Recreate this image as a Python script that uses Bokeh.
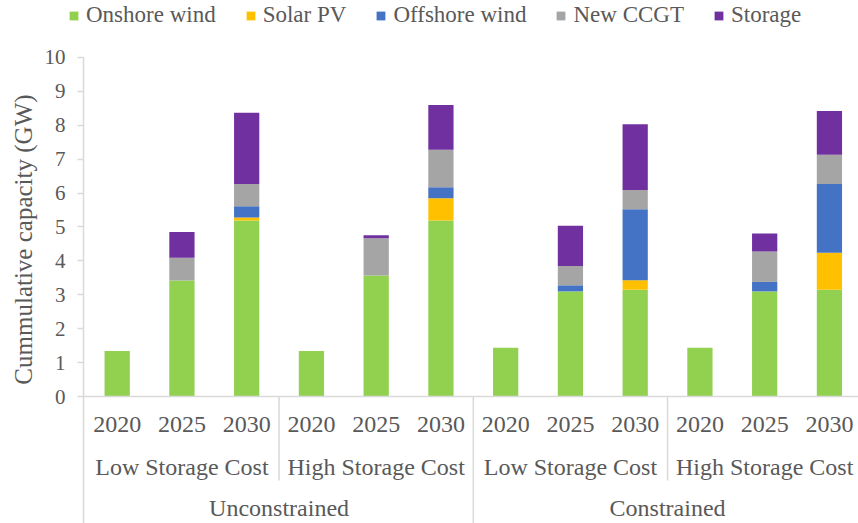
from bokeh.plotting import figure
from bokeh.models import ColumnDataSource, Range1d, FixedTicker, Legend, LegendItem, Label
from bokeh.core.properties import value
from bokeh.embed import file_html
from bokeh.resources import INLINE

# ---- data ----
constraint_groups = ["Unconstrained", "Constrained"]
cost_groups = ["Low Storage Cost", "High Storage Cost"]
years = ["2020", "2025", "2030"]
series_names = ["Onshore wind", "Solar PV", "Offshore wind", "New CCGT", "Storage"]
series_keys = ["onshore", "solar", "offshore", "ccgt", "storage"]
colors = ["#92d050", "#ffc000", "#4472c4", "#a5a5a5", "#7030a0"]

onshore = [1.34, 3.42, 5.19, 1.34, 3.57, 5.19, 1.44, 3.10, 3.15, 1.44, 3.10, 3.15]
solar = [0, 0, 0.09, 0, 0, 0.66, 0, 0, 0.28, 0, 0, 1.09]
offshore = [0, 0, 0.33, 0, 0, 0.32, 0, 0.18, 2.09, 0, 0.28, 2.03]
ccgt = [0, 0.67, 0.66, 0, 1.10, 1.11, 0, 0.57, 0.57, 0, 0.90, 0.86]
storage = [0, 0.76, 2.10, 0, 0.09, 1.32, 0, 1.19, 1.94, 0, 0.53, 1.29]
y_ticks = [0, 1, 2, 3, 4, 5, 6, 7, 8, 9, 10]

# ---- styling ----
FONT = "Liberation Serif"
TEXT = "#595959"
AXIS = "#d9d9d9"

n_years = len(years)
n_cost = len(cost_groups)
n = len(constraint_groups) * n_cost * n_years
xpos = list(range(n))
year_labels = years * (n // n_years)
cost_labels = cost_groups * len(constraint_groups)
cost_x = [i * n_years + (n_years - 1) / 2 for i in range(len(cost_labels))]
con_x = [i * n_years * n_cost + (n_years * n_cost - 1) / 2 for i in range(len(constraint_groups))]

X0, X1 = -1.802, 11.449
Y0, Y1 = -3.746, 11.681
AXIS_X = -0.52

source = ColumnDataSource(dict(x=xpos, onshore=onshore, solar=solar, offshore=offshore,
                               ccgt=ccgt, storage=storage))

p = figure(width=858, height=523, output_backend="svg", toolbar_location=None,
           x_range=Range1d(X0, X1), y_range=Range1d(Y0, Y1),
           x_axis_location=None,
           min_border_left=0, min_border_right=0, min_border_top=0, min_border_bottom=0)
p.grid.visible = False
p.outline_line_color = None
p.background_fill_color = "white"

renderers = p.vbar_stack(series_keys, x="x", width=0.39, color=colors, source=source,
                         line_color=None)

# y axis placed inside the frame
ya = p.yaxis[0]
ya.fixed_location = AXIS_X
ya.bounds = (Y0, max(y_ticks))
ya.ticker = FixedTicker(ticks=y_ticks)
ya.axis_line_color = AXIS
ya.axis_line_width = 1.5
ya.major_tick_line_color = AXIS
ya.major_tick_line_width = 1.5
ya.major_tick_in = 0
ya.major_tick_out = 6
ya.minor_tick_line_color = None
ya.major_label_standoff = 12
ya.major_label_text_font = FONT
ya.major_label_text_font_size = "21px"
ya.major_label_text_color = TEXT

# baseline
p.segment(x0=[AXIS_X], y0=[0], x1=[X1], y1=[0], line_color=AXIS, line_width=1.5)

# group separators
sep_x0, sep_y0, sep_y1 = [], [], []
for i in range(1, len(cost_labels)):
    sep_x0.append(i * n_years - 0.5)
    sep_y0.append(0)
    sep_y1.append(Y0 if i % n_cost == 0 else -2.48)
p.segment(x0=sep_x0, y0=sep_y0, x1=sep_x0, y1=sep_y1, line_color=AXIS, line_width=1.5)

# category labels
p.text(x=xpos, y=[-0.835] * n, text=year_labels, text_align="center", text_baseline="alphabetic",
       text_font=value(FONT), text_font_size="24px", text_color=TEXT)
p.text(x=cost_x, y=[-2.065] * len(cost_x), text=cost_labels, text_align="center",
       text_baseline="alphabetic", text_font=value(FONT), text_font_size="24px", text_color=TEXT)
p.text(x=con_x, y=[-3.275] * len(con_x), text=constraint_groups, text_align="center",
       text_baseline="alphabetic", text_font=value(FONT), text_font_size="24px", text_color=TEXT)

# y axis title
p.add_layout(Label(x=-1.45, y=4.63, x_units="data", y_units="data", text="Cummulative capacity (GW)",
                   angle=1.5707963, text_align="center", text_baseline="middle",
                   text_font=FONT, text_font_size="25px", text_color=TEXT))

legend = Legend(items=[LegendItem(label=value(nm), renderers=[r]) for nm, r in zip(series_names, renderers)],
                orientation="horizontal", location=(68, 495), padding=0, margin=0, spacing=29,
                glyph_width=11, glyph_height=11, label_standoff=7,
                label_text_font=FONT, label_text_font_size="23px", label_text_color=TEXT,
                border_line_color=None, background_fill_alpha=0)
p.add_layout(legend, "center")

open("out.html", "w").write(file_html(p, INLINE))
